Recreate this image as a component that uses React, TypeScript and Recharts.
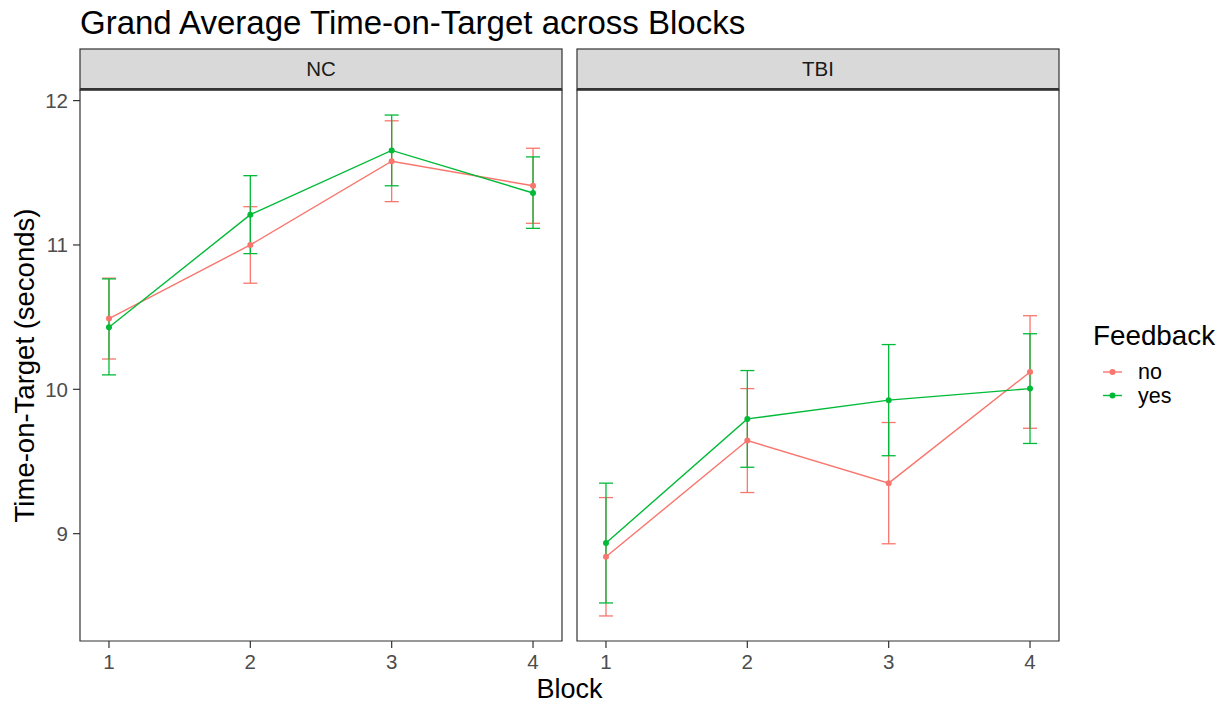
import React from 'react';
import { LineChart, Line, XAxis, YAxis, ErrorBar, ReferenceArea } from 'recharts';

const blocks = [1, 2, 3, 4];

const ncNoMean = [10.49, 11.0, 11.58, 11.41];
const ncNoLow = [10.21, 10.735, 11.3, 11.15];
const ncNoHigh = [10.77, 11.265, 11.86, 11.67];
const ncYesMean = [10.43, 11.21, 11.655, 11.36];
const ncYesLow = [10.1, 10.94, 11.41, 11.115];
const ncYesHigh = [10.765, 11.48, 11.9, 11.61];

const tbiNoMean = [8.84, 9.645, 9.35, 10.12];
const tbiNoLow = [8.43, 9.285, 8.93, 9.73];
const tbiNoHigh = [9.25, 10.005, 9.77, 10.51];
const tbiYesMean = [8.935, 9.795, 9.925, 10.005];
const tbiYesLow = [8.52, 9.46, 9.54, 9.625];
const tbiYesHigh = [9.35, 10.13, 10.31, 10.385];

const yTicks = [9, 10, 11, 12];
const xTicks = [1, 2, 3, 4];
const facetLabels = ['NC', 'TBI'];
const feedbackLevels = ['no', 'yes'];

const NO_COLOR = '#F8766D';
const YES_COLOR = '#00BA38';
const FONT = '"Liberation Sans", Arial, Helvetica, sans-serif';
const X_DOMAIN: [number, number] = [0.795, 4.205];
const Y_DOMAIN: [number, number] = [8.2565, 12.0735];

function build(noM: number[], noL: number[], noH: number[], yM: number[], yL: number[], yH: number[]) {
  return blocks.map((b, i) => ({
    block: b,
    no: noM[i],
    yes: yM[i],
    noErr: [noM[i] - noL[i], noH[i] - noM[i]],
    yesErr: [yM[i] - yL[i], yH[i] - yM[i]],
  }));
}

const ncData = build(ncNoMean, ncNoLow, ncNoHigh, ncYesMean, ncYesLow, ncYesHigh);
const tbiData = build(tbiNoMean, tbiNoLow, tbiNoHigh, tbiYesMean, tbiYesLow, tbiYesHigh);

const W = 1228;
const H = 704;
const PLOT_TOP = 90;
const PLOT_BOTTOM = 641;
const panels = [
  { left: 80, right: 562, data: ncData, label: facetLabels[0], showY: true },
  { left: 577, right: 1059, data: tbiData, label: facetLabels[1], showY: false },
];

const tickStyle = { fill: '#4D4D4D', fontSize: 20.5, fontFamily: FONT };

function Panel({ left, right, data, showY }: any) {
  const yW = showY ? 60 : 0;
  const xH = 30;
  return (
    <div style={{ position: 'absolute', left: 0, top: 0 }}>
      <LineChart
        width={W}
        height={H}
        data={data}
        margin={{ top: PLOT_TOP, bottom: H - PLOT_BOTTOM - xH, left: left - yW, right: W - right }}
      >
        <XAxis
          dataKey="block"
          type="number"
          domain={X_DOMAIN}
          ticks={xTicks}
          allowDataOverflow
          axisLine={false}
          tickLine={{ stroke: '#333333', strokeWidth: 1.2 }}
          tickSize={7}
          tickMargin={6}
          height={xH}
          tick={tickStyle}
          interval={0}
        />
        <YAxis
          type="number"
          domain={Y_DOMAIN}
          ticks={yTicks}
          allowDataOverflow
          hide={!showY}
          width={yW}
          axisLine={false}
          tickLine={{ stroke: '#333333', strokeWidth: 1.2 }}
          tickSize={7}
          tickMargin={5}
          tick={tickStyle}
          interval={0}
        />
        <ReferenceArea
          x1={X_DOMAIN[0]}
          x2={X_DOMAIN[1]}
          y1={Y_DOMAIN[0]}
          y2={Y_DOMAIN[1]}
          fill="none"
          stroke="#333333"
          strokeWidth={1.2}
          ifOverflow="visible"
        />
        <Line
          dataKey="no"
          stroke={NO_COLOR}
          strokeWidth={1.4}
          dot={{ r: 3, fill: NO_COLOR, stroke: 'none' }}
          activeDot={false}
          isAnimationActive={false}
        >
          <ErrorBar dataKey="noErr" direction="y" width={7} stroke={NO_COLOR} strokeWidth={1.3} />
        </Line>
        <Line
          dataKey="yes"
          stroke={YES_COLOR}
          strokeWidth={1.4}
          dot={{ r: 3, fill: YES_COLOR, stroke: 'none' }}
          activeDot={false}
          isAnimationActive={false}
        >
          <ErrorBar dataKey="yesErr" direction="y" width={7} stroke={YES_COLOR} strokeWidth={1.3} />
        </Line>
      </LineChart>
    </div>
  );
}

function Overlay() {
  const legendColors = [NO_COLOR, YES_COLOR];
  return (
    <svg width={W} height={H} style={{ position: 'absolute', left: 0, top: 0, pointerEvents: 'none' }}>
      <text x={80} y={34} fontSize={33} fontFamily={FONT} fill="#000000">
        Grand Average Time-on-Target across Blocks
      </text>
      {panels.map((p) => (
        <g key={p.label}>
          <rect x={p.left} y={49} width={p.right - p.left} height={PLOT_TOP - 49} fill="#D9D9D9" stroke="#333333" strokeWidth={1.2} />
          <line x1={p.left} x2={p.right} y1={89} y2={89} stroke="#333333" strokeWidth={2} />
          <text x={(p.left + p.right) / 2} y={76} textAnchor="middle" fontSize={20.5} fontFamily={FONT} fill="#1A1A1A">
            {p.label}
          </text>
        </g>
      ))}
      <text x={(80 + 1059) / 2} y={698} textAnchor="middle" fontSize={27} fontFamily={FONT} fill="#000000">
        Block
      </text>
      <text
        x={0}
        y={0}
        transform={`translate(34, ${(PLOT_TOP + PLOT_BOTTOM) / 2}) rotate(-90)`}
        textAnchor="middle"
        fontSize={27.5}
        fontFamily={FONT}
        fill="#000000"
      >
        Time-on-Target (seconds)
      </text>
      <text x={1093} y={345} fontSize={27.8} fontFamily={FONT} fill="#000000">
        Feedback
      </text>
      {feedbackLevels.map((lv, i) => (
        <g key={lv}>
          <line x1={1103} x2={1122} y1={372 + i * 23.5} y2={372 + i * 23.5} stroke={legendColors[i]} strokeWidth={1.4} />
          <circle cx={1112.5} cy={372 + i * 23.5} r={3} fill={legendColors[i]} />
          <text x={1138} y={379 + i * 23.5} fontSize={21.5} fontFamily={FONT} fill="#000000">
            {lv}
          </text>
        </g>
      ))}
    </svg>
  );
}

export default function App() {
  return (
    <div style={{ position: 'absolute', left: 0, top: 0, width: W, height: H, background: '#FFFFFF', overflow: 'hidden' }}>
      {panels.map((p) => (
        <Panel key={p.label} {...p} />
      ))}
      <Overlay />
    </div>
  );
}
